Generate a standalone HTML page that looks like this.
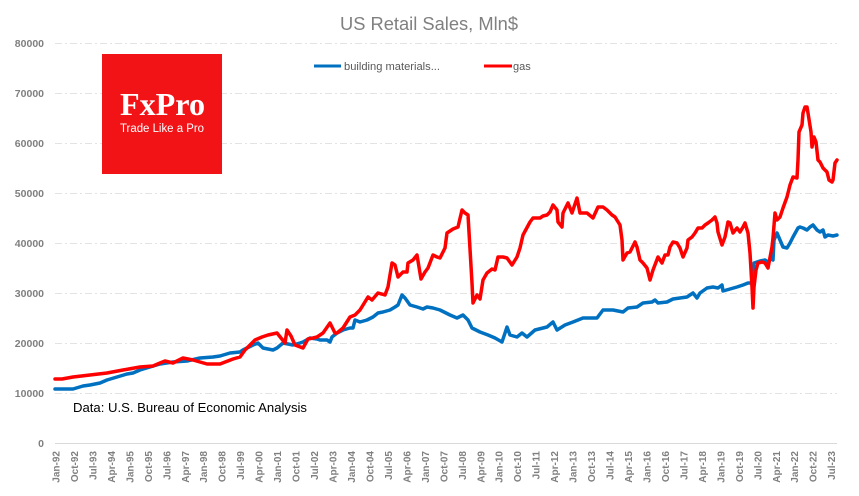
<!DOCTYPE html>
<html><head><meta charset="utf-8"><style>
html,body{margin:0;padding:0;background:#fff;}
svg{display:block;}
</style></head><body>
<svg width="859" height="496" viewBox="0 0 859 496" xmlns="http://www.w3.org/2000/svg" font-family="Liberation Sans, Arial, sans-serif">
<rect width="859" height="496" fill="#fff"/>
<!-- grid -->
<g stroke="#e3e3e3" stroke-width="1" stroke-dasharray="7 3 2 3">
<line x1="55" y1="43.5" x2="837" y2="43.5"/>
<line x1="55" y1="93.5" x2="837" y2="93.5"/>
<line x1="55" y1="143.5" x2="837" y2="143.5"/>
<line x1="55" y1="193.5" x2="837" y2="193.5"/>
<line x1="55" y1="243.5" x2="837" y2="243.5"/>
<line x1="55" y1="293.5" x2="837" y2="293.5"/>
<line x1="55" y1="343.5" x2="837" y2="343.5"/>
<line x1="55" y1="393.5" x2="837" y2="393.5"/>
</g>
<line x1="55" y1="443.5" x2="837" y2="443.5" stroke="#d9d9d9" stroke-width="1"/>
<!-- y labels -->
<g fill="#7f7f7f" font-size="10.5" font-weight="bold" text-anchor="end">
<text x="44" y="47">80000</text>
<text x="44" y="97">70000</text>
<text x="44" y="147">60000</text>
<text x="44" y="197">50000</text>
<text x="44" y="247">40000</text>
<text x="44" y="297">30000</text>
<text x="44" y="347">20000</text>
<text x="44" y="397">10000</text>
<text x="44" y="447">0</text>
</g>
<!-- x labels -->
<g fill="#7f7f7f" font-size="10" font-weight="bold" text-anchor="end">
<text transform="translate(59.5,451) rotate(-90)">Jan-92</text>
<text transform="translate(78.0,451) rotate(-90)">Oct-92</text>
<text transform="translate(96.4,451) rotate(-90)">Jul-93</text>
<text transform="translate(114.9,451) rotate(-90)">Apr-94</text>
<text transform="translate(133.4,451) rotate(-90)">Jan-95</text>
<text transform="translate(151.8,451) rotate(-90)">Oct-95</text>
<text transform="translate(170.3,451) rotate(-90)">Jul-96</text>
<text transform="translate(188.8,451) rotate(-90)">Apr-97</text>
<text transform="translate(207.2,451) rotate(-90)">Jan-98</text>
<text transform="translate(225.7,451) rotate(-90)">Oct-98</text>
<text transform="translate(244.2,451) rotate(-90)">Jul-99</text>
<text transform="translate(262.6,451) rotate(-90)">Apr-00</text>
<text transform="translate(281.1,451) rotate(-90)">Jan-01</text>
<text transform="translate(299.6,451) rotate(-90)">Oct-01</text>
<text transform="translate(318.1,451) rotate(-90)">Jul-02</text>
<text transform="translate(336.5,451) rotate(-90)">Apr-03</text>
<text transform="translate(355.0,451) rotate(-90)">Jan-04</text>
<text transform="translate(373.5,451) rotate(-90)">Oct-04</text>
<text transform="translate(391.9,451) rotate(-90)">Jul-05</text>
<text transform="translate(410.4,451) rotate(-90)">Apr-06</text>
<text transform="translate(428.9,451) rotate(-90)">Jan-07</text>
<text transform="translate(447.3,451) rotate(-90)">Oct-07</text>
<text transform="translate(465.8,451) rotate(-90)">Jul-08</text>
<text transform="translate(484.3,451) rotate(-90)">Apr-09</text>
<text transform="translate(502.7,451) rotate(-90)">Jan-10</text>
<text transform="translate(521.2,451) rotate(-90)">Oct-10</text>
<text transform="translate(539.7,451) rotate(-90)">Jul-11</text>
<text transform="translate(558.1,451) rotate(-90)">Apr-12</text>
<text transform="translate(576.6,451) rotate(-90)">Jan-13</text>
<text transform="translate(595.1,451) rotate(-90)">Oct-13</text>
<text transform="translate(613.5,451) rotate(-90)">Jul-14</text>
<text transform="translate(632.0,451) rotate(-90)">Apr-15</text>
<text transform="translate(650.5,451) rotate(-90)">Jan-16</text>
<text transform="translate(668.9,451) rotate(-90)">Oct-16</text>
<text transform="translate(687.4,451) rotate(-90)">Jul-17</text>
<text transform="translate(705.9,451) rotate(-90)">Apr-18</text>
<text transform="translate(724.3,451) rotate(-90)">Jan-19</text>
<text transform="translate(742.8,451) rotate(-90)">Oct-19</text>
<text transform="translate(761.3,451) rotate(-90)">Jul-20</text>
<text transform="translate(779.8,451) rotate(-90)">Apr-21</text>
<text transform="translate(798.2,451) rotate(-90)">Jan-22</text>
<text transform="translate(816.7,451) rotate(-90)">Oct-22</text>
<text transform="translate(835.2,451) rotate(-90)">Jul-23</text>
</g>
<!-- title -->
<text x="429" y="30" font-size="18.5" fill="#808080" text-anchor="middle" textLength="178" lengthAdjust="spacingAndGlyphs">US Retail Sales, Mln$</text>
<!-- legend -->
<line x1="314" y1="66" x2="341" y2="66" stroke="#0070c0" stroke-width="3"/>
<text x="344" y="70" font-size="11" fill="#595959" textLength="96" lengthAdjust="spacingAndGlyphs">building materials...</text>
<line x1="484" y1="66" x2="512" y2="66" stroke="#ff0000" stroke-width="3"/>
<text x="513" y="70" font-size="11" fill="#595959">gas</text>
<!-- logo -->
<rect x="102" y="54" width="120" height="120" fill="#f21317"/>
<text x="120" y="115" font-family="Liberation Serif, serif" font-weight="bold" font-size="32" fill="#fff" textLength="85" lengthAdjust="spacingAndGlyphs">FxPro</text>
<text x="120" y="132" font-size="11.5" fill="#fff" textLength="84" lengthAdjust="spacingAndGlyphs">Trade Like a Pro</text>
<!-- source -->
<text x="73" y="412" font-size="13" fill="#000" textLength="234" lengthAdjust="spacingAndGlyphs">Data: U.S. Bureau of Economic Analysis</text>
<!-- blue series -->
<polyline fill="none" stroke="#0070c0" stroke-width="3.5" stroke-linejoin="round" stroke-linecap="round" points="
55,389 65,389 73,389 83,386 90,385 100,383 107,380 117,377 127,374 133,373 140,370 150,367 160,364 173,362 187,361 200,358 213,357 220,356 230,353 240,352 243,350 253,345 258,343 263,348 273,350 277,348 283,343 293,345 300,343 303,342 310,338 317,339 320,340 327,340 330,342 332,337 337,333 343,330 350,328 353,328 355,320 360,322 367,320 373,317 378,313 383,312 390,310 395,307 398,305 402,295 405,298 410,305 417,307 423,309 427,307 433,308 440,310 450,315 457,318 463,315 468,320 472,328 480,332 488,335 495,338 502,342 507,327 510,335 517,337 522,333 527,337 535,330 547,327 553,322 557,330 565,325 573,322 583,318 597,318 603,310 613,310 623,312 628,308 637,307 643,303 652,302 655,300 658,303 667,302 673,299 680,298 687,297 693,293 697,298 700,293 707,288 713,287 718,288 722,285 723,291 730,289 737,287 743,285 748,283 752,283 754,263 760,261 765,260 768,262 772,258 773,260 774,240 777,233 780,240 783,247 787,248 790,243 793,237 798,228 800,227 803,228 807,230 810,227 813,225 817,230 820,232 823,230 825,237 828,235 833,236 837,235"/>
<!-- red series -->
<polyline fill="none" stroke="#ff0000" stroke-width="3.5" stroke-linejoin="round" stroke-linecap="round" points="
55,379 62,379 73,377 90,375 107,373 123,370 140,367 153,366 160,363 165,361 173,363 183,358 193,360 207,364 220,364 233,359 240,357 245,350 250,345 255,340 262,337 268,335 277,333 285,343 287,330 291,336 295,345 303,348 308,339 313,338 317,337 323,333 330,323 335,333 337,333 343,328 350,317 355,315 360,310 368,297 372,300 378,293 385,295 388,287 392,263 395,265 398,277 403,272 407,272 408,263 413,260 417,255 421,279 425,272 428,268 433,255 437,257 440,258 445,248 447,233 453,229 458,227 462,210 465,213 468,215 472,283 473,303 477,295 480,299 483,280 487,273 492,269 495,270 498,257 503,257 507,258 512,265 517,257 520,248 523,235 530,222 533,218 540,218 543,216 547,215 550,212 553,205 557,210 558,222 562,227 563,213 568,203 572,213 577,198 580,213 587,213 593,218 598,207 603,207 607,210 612,215 615,217 620,225 622,240 623,260 627,253 630,252 635,242 637,247 640,260 643,263 647,268 650,280 653,270 658,257 662,263 665,255 668,255 670,247 673,242 677,243 680,248 683,257 687,248 688,240 692,237 695,233 698,228 702,228 705,225 708,223 712,220 715,217 717,223 718,232 722,245 725,237 728,222 730,223 733,233 737,228 740,232 743,227 745,223 748,233 750,253 752,287 753,308 754,287 756,270 758,263 762,262 765,263 768,268 772,247 773,238 775,213 777,220 780,217 783,208 787,197 790,185 793,177 797,178 798,160 799,132 802,125 803,113 805,107 807,107 808,113 811,132 812,147 814,137 816,142 818,160 820,162 823,168 827,172 829,180 832,182 833,180 835,163 837,160"/>
</svg>
</body></html>
